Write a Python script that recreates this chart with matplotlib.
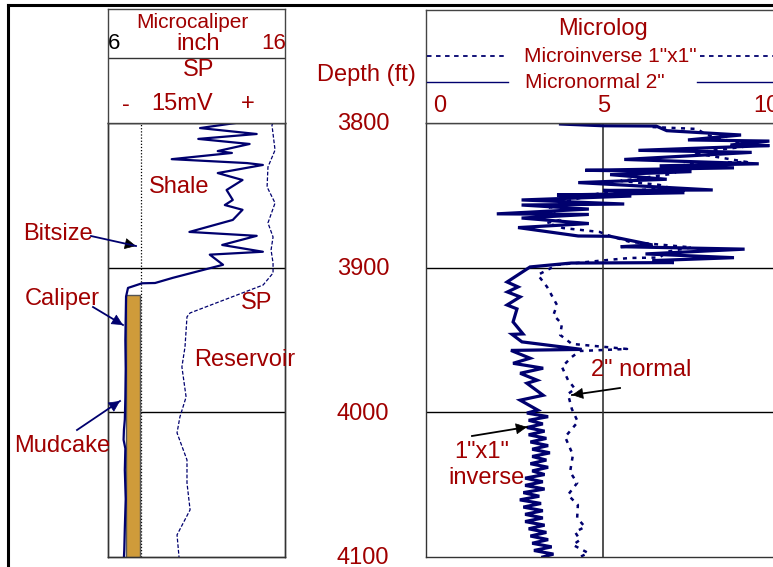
import matplotlib
matplotlib.use("Agg")
import matplotlib.pyplot as plt
from matplotlib.lines import Line2D
import matplotlib.transforms as mtrans

plt.rcParams['font.family'] = ['Liberation Sans', 'DejaVu Sans']

# ---------------- data ----------------
depth_ticks = [3800, 3900, 4000, 4100]
bitsize_in = 7.875

caliper_depth = [3800, 3803.5, 3807.6, 3811, 3814.5, 3819.4, 3820.7, 3825, 3827.7, 3829,
                 3834.6, 3839.4, 3846.3, 3853.2, 3856.7, 3860, 3867, 3875.3, 3878, 3884.3,
                 3889, 3891, 3898, 3907, 3910.6, 3910.8, 3914, 3920, 3935, 3950, 3970,
                 3990, 4005, 4012, 4019, 4025, 4040, 4060, 4080, 4095, 4100]
caliper_in = [13.2, 11.2, 14.4, 11.1, 14.0, 12.2, 13.0, 9.6, 13.85, 14.75,
              12.2, 13.6, 12.7, 13.05, 12.6, 13.6, 13.05, 10.6, 14.4, 12.45,
              14.75, 11.75, 12.5, 9.67, 8.66, 7.92, 7.13, 7.02, 7.0, 6.98, 7.0,
              6.98, 6.95, 6.9, 6.88, 6.98, 6.95, 7.0, 6.95, 6.92, 6.9]

mudcake_top, mudcake_bottom = 3919, 4100
mudcake_inner, mudcake_outer = 7.02, 7.8

sp_depth = [3800, 3801.4, 3818.7, 3830.4, 3844.2, 3855.3, 3869.1, 3878.8, 3887.8, 3896.8,
            3903.7, 3912, 3931.3, 3934, 3954.8, 3968.6, 3989.4, 4003.2, 4014.2, 4032.9,
            4048.8, 4067.4, 4084.7, 4100]
sp_mv = [-5.4, -5.9, -4.5, -7.7, -8.1, -4.5, -7.7, -5.4, -6.3, -5.4,
         -5.4, -9.9, -42.9, -44.3, -45.2, -46.6, -44.7, -47.5, -48.8, -44.3,
         -44.3, -42.9, -48.8, -47.9]

# solid microlog curve
solid_depth = [3800.7, 3801.9, 3802.1, 3805.3, 3808.3, 3811.7, 3812.5, 3815.2, 3815.6, 3818.9,
               3820.3, 3825.2, 3828.2, 3829.6, 3831.0, 3832.7, 3833.6, 3835.7, 3838.9, 3841.2,
               3846.3, 3846.6, 3848.2, 3849.8, 3850.5, 3853.2, 3856.0, 3856.7, 3859.5, 3862.8,
               3863.2, 3865.7, 3869.5, 3872.3, 3878.1, 3878.3, 3884.3, 3885.5, 3887.2, 3890.5,
               3893.1, 3895.1, 3896.5, 3896.8, 3899.5, 3909.9, 3913.3, 3916.8, 3920.2, 3925.8,
               3928.5, 3937.5, 3945.8, 3946.1, 3951.3, 3956.5, 3957.2, 3962.6, 3966.1, 3969.5,
               3973.0, 3977.8, 3979.9, 3988.2, 3991.6, 3998.5,
               4000.5, 4003, 4005.5, 4008, 4010.5, 4013, 4015.5, 4018, 4020.5, 4023, 4025.5,
               4028, 4030.5, 4033, 4035.5, 4038, 4040.5, 4043, 4045.5, 4048, 4050.5, 4053,
               4055.5, 4058, 4060.5, 4063, 4065.5, 4068, 4070.5, 4073, 4075.5, 4078, 4080.5,
               4083, 4085.5, 4088, 4090.5, 4093, 4095.5, 4098, 4100]
solid_val = [3.8, 5.0, 6.5, 6.8, 8.9, 7.4, 9.7, 8.6, 9.7, 6.0,
             9.2, 5.6, 9.4, 6.6, 8.7, 4.5, 7.5, 5.2, 6.8, 4.3,
             8.1, 5.0, 7.3, 3.7, 5.8, 2.7, 5.6, 2.7, 4.6, 2.0,
             4.6, 2.7, 4.6, 2.6, 4.3, 5.2, 6.4, 5.5, 9.0, 6.2,
             8.7, 6.4, 7.0, 4.1, 2.94, 2.29, 2.6, 2.3, 2.66, 2.29,
             2.57, 2.46, 2.74, 2.43, 2.71, 4.4, 2.4, 2.94, 2.46, 3.31,
             2.66, 3.14, 2.85, 3.31, 2.66, 3.16,
             2.85, 3.45, 2.9, 3.3, 2.85, 3.35, 2.9, 3.4, 2.95, 3.45, 3.0,
             3.5, 3.0, 3.4, 2.95, 3.45, 3.0, 3.35, 2.8, 3.3, 2.8, 3.35,
             2.75, 3.2, 2.65, 3.25, 2.75, 3.3, 2.8, 3.3, 2.8, 3.35, 2.9,
             3.4, 2.95, 3.45, 3.0, 3.55, 3.05, 3.6, 3.3]

# dotted microlog curve
dot_depth = [3802.8, 3804.1, 3808.3, 3815.9, 3820.7, 3827.0, 3827.6, 3835, 3840, 3842.8,
             3844.9, 3848, 3853.9, 3858.7, 3867.0, 3869.1, 3872.6, 3875.3, 3878.1, 3882.2,
             3886, 3889, 3893.0, 3893.3, 3895, 3898.1, 3905.0, 3913.3, 3925.8, 3932.7,
             3938.9, 3946.5, 3952.7, 3956.2, 3957.6, 3961.7, 3968.6, 3977.6, 3983.8, 3987.3,
             3997.7, 4006.6, 4017, 4029.4, 4041.2, 4048.8, 4057.1, 4064, 4073, 4079.2,
             4082.7, 4088.2, 4091.6, 4097.2, 4100]
dot_val = [6.4, 7.65, 7.94, 9.15, 7.54, 9.07, 7.37, 7.0, 5.5, 6.6,
           6.9, 5.0, 4.0, 3.5, 3.79, 3.42, 3.87, 4.9, 5.2, 5.76,
           7.5, 6.8, 6.6, 5.76, 5.0, 3.7, 3.16, 3.42, 3.7, 3.6,
           3.84, 3.79, 4.12, 5.68, 4.35, 4.12, 3.84, 4.01, 4.21, 4.01,
           4.12, 4.29, 3.93, 4.15, 4.07, 4.27, 4.01, 4.29, 4.27, 4.49,
           4.21, 4.35, 4.15, 4.58, 4.35]

# ---------------- figure ----------------
W, H = 773, 567
fig = plt.figure(figsize=(W / 100, H / 100), dpi=100)
RED = '#A00000'
NAVY = '#00006E'
YOFF = 1.5


def fx(x):
    return x / W


def fy(y):
    return 1 - y / H


def add_ax(x0, y0, x1, y1):
    return fig.add_axes([fx(x0), fy(y1), (x1 - x0) / W, (y1 - y0) / H])


def ftext(x, y, s, size=17, color=RED, ha='center', **kw):
    fig.text(fx(x), fy(y + YOFF), s, fontsize=size, color=color, ha=ha, va='center', **kw)


# outer frame
fig.add_artist(Line2D([fx(8), 1.0], [fy(5), fy(5)], color='black', lw=2.2))
fig.add_artist(Line2D([fx(8), fx(8)], [fy(5), 0], color='black', lw=2.2))

# ---- left track ----
axL = add_ax(108, 123, 285, 557)
axL.set_xlim(6, 16)
axL.set_ylim(4100, 3800)
axL.set_xticks([])
axL.set_yticks([])
for d in depth_ticks[1:-1]:
    axL.axhline(d, color='black', lw=1)
axL.axvline(bitsize_in, color='black', lw=0.9, ls=(0, (1, 1.5)))
axL.fill_betweenx([mudcake_top, mudcake_bottom], mudcake_inner, mudcake_outer,
                  facecolor='#CF9B3A', edgecolor='#555555', lw=1, zorder=3)
axL.plot(caliper_in, caliper_depth, color=NAVY, lw=1.6, zorder=4)
axSP = axL.twiny()
axSP.set_xlim(-80, 0)
axSP.set_ylim(4100, 3800)
axSP.set_xticks([])
axSP.plot(sp_mv, sp_depth, color=NAVY, lw=0.9, ls=(0, (3, 1.5)))
for a in (axL, axSP):
    for s in a.spines.values():
        s.set_color('#333333')
        s.set_linewidth(1)

axLh = add_ax(108, 9, 285, 123)
axLh.set_xlim(0, 1)
axLh.set_ylim(1, 0)
axLh.set_xticks([])
axLh.set_yticks([])
axLh.axhline((58 - 9) / (123 - 9), color='#333333', lw=1)
for s in axLh.spines.values():
    s.set_color('#444444')
    s.set_linewidth(1)

ftext(192, 21, 'Microcaliper', size=15)
ftext(198, 42, 'inch', size=17)
ftext(108, 42, '6', size=16, color='black', ha='left')
ftext(286, 42, '16', size=16, ha='right')
ftext(199, 69, 'SP', size=17)
ftext(126, 103, '-', size=17)
ftext(182, 103, '15mV', size=17)
ftext(248, 103, '+', size=17)

# ---- right track ----
axR = add_ax(426, 123, 780, 557)
axR.set_xlim(0, 10)
axR.set_ylim(4100, 3800)
axR.set_xticks([])
axR.set_yticks([])
for d in depth_ticks[1:-1]:
    axR.axhline(d, color='black', lw=1)
axR.axvline(5, color='#333333', lw=1.2)
axR.plot(dot_val, dot_depth, color=NAVY, lw=1.8, ls=(0, (1.6, 2.2)))
axR.plot(solid_val, solid_depth, color=NAVY, lw=2.3, solid_joinstyle='miter')
for s in axR.spines.values():
    s.set_color('#333333')
    s.set_linewidth(1)

axRh = add_ax(426, 10, 780, 123)
axRh.set_xlim(0, 1)
axRh.set_ylim(1, 0)
axRh.set_xticks([])
axRh.set_yticks([])
for s in axRh.spines.values():
    s.set_color('#444444')
    s.set_linewidth(1)
# legend lines inside header
fig.add_artist(Line2D([fx(427), fx(505)], [fy(56), fy(56)], color=NAVY, lw=1.3, ls=(0, (2.5, 2.5))))
fig.add_artist(Line2D([fx(700), fx(773)], [fy(56), fy(56)], color=NAVY, lw=1.3, ls=(0, (2.5, 2.5))))
fig.add_artist(Line2D([fx(427), fx(508)], [fy(82), fy(82)], color=NAVY, lw=1))
fig.add_artist(Line2D([fx(697), fx(773)], [fy(82), fy(82)], color=NAVY, lw=1))
ftext(603, 27, 'Microlog', size=17)
ftext(610, 55, 'Microinverse 1"x1"', size=15)
ftext(595, 81, 'Micronormal 2"', size=15)
ftext(433, 104, '0', size=17, ha='left')
ftext(604, 104, '5', size=17)
ftext(780, 104, '10', size=17, ha='right')

# depth labels
ftext(366, 73, 'Depth (ft)', size=17)
tr = mtrans.blended_transform_factory(fig.transFigure, axR.transData)
off = mtrans.ScaledTranslation(0, -YOFF / 100, fig.dpi_scale_trans)
for d in depth_ticks:
    fig.text(fx(363), d, str(d), transform=tr + off, fontsize=17, color=RED,
             ha='center', va='center')

# annotations
ftext(179, 185, 'Shale')
ftext(257, 301, 'SP')
ftext(245, 358, 'Reservoir')
ftext(58, 232, 'Bitsize')
ftext(62, 298, 'Caliper')
ftext(62, 444, 'Mudcake')
ftext(641, 369, '2" normal')
ftext(482, 450, '1"x1"')
ftext(487, 477, 'inverse')


def arrow(x0, y0, x1, y1, lc, hc, scale=16):
    fig.add_artist(Line2D([fx(x0), fx(x1)], [fy(y0), fy(y1)], color=lc, lw=1.3))
    t = 0.72
    xh = x0 + (x1 - x0) * t
    yh = y0 + (y1 - y0) * t
    fig.add_artist(matplotlib.patches.FancyArrowPatch(
        (fx(xh), fy(yh)), (fx(x1), fy(y1)), transform=fig.transFigure,
        arrowstyle='-|>', mutation_scale=scale, color=hc, lw=0.5,
        shrinkA=0, shrinkB=0))


arrow(91, 236, 136, 246, NAVY, 'black', 18)
arrow(93, 307, 123, 325, NAVY, NAVY, 18)
arrow(77, 430, 120, 401, NAVY, NAVY, 18)
arrow(620, 388, 572, 395, 'black', 'black', 18)
arrow(472, 436, 527, 427, 'black', 'black', 18)

fig.savefig('out.png', dpi=100)
